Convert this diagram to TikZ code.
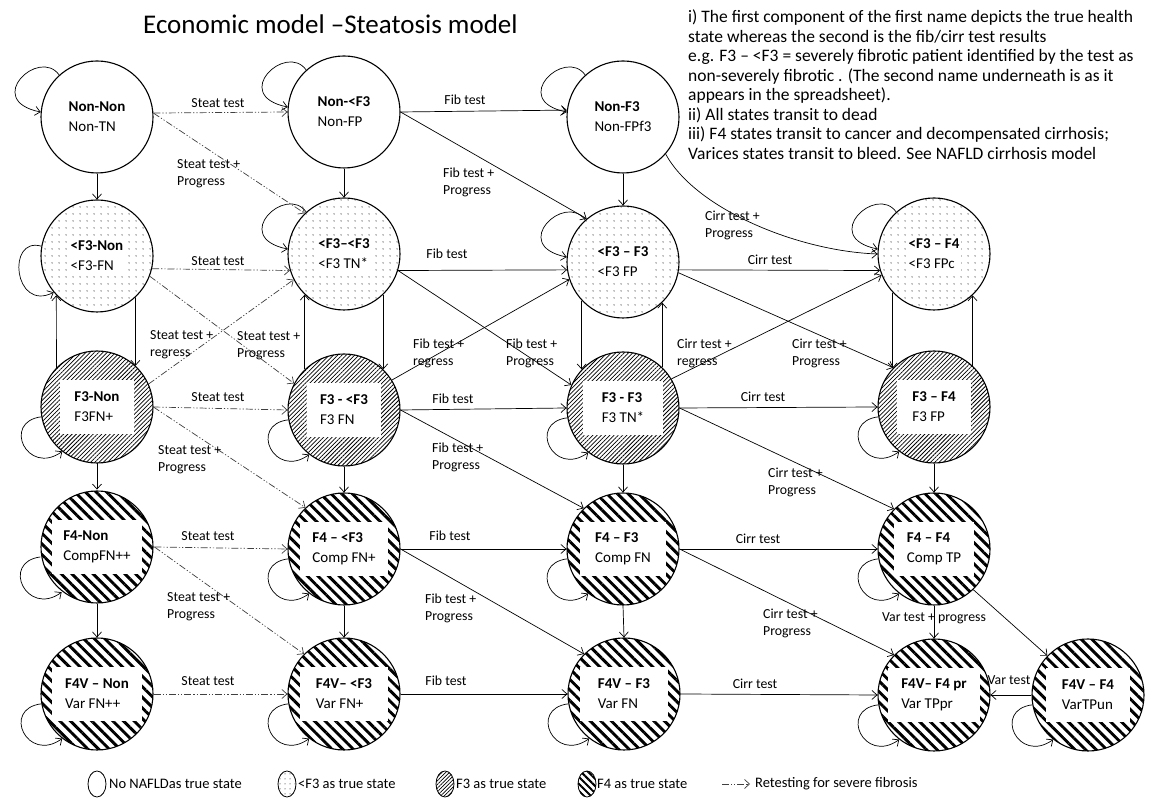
\documentclass[tikz,border=0pt]{standalone}
\usepackage{fontspec}
\setmainfont{Carlito}
\usetikzlibrary{arrows.meta,patterns.meta,shapes.geometric}
\tikzset{
  st/.style={circle, draw=black, line width=1.1pt, minimum size=112pt, inner sep=0pt},
  nonst/.style={st, fill=white},
  ltst/.style={st, pattern={Dots[distance=6.5pt, radius=0.6pt]}},
  fthree/.style={st, pattern={Lines[angle=45, distance=3pt, line width=0.75pt]}},
  ffour/.style={st, pattern={Lines[angle=-45, distance=7.5pt, line width=2.9pt]}},
  lbl/.style={font=\fontsize{15}{20}\selectfont, align=left, inner sep=0pt},
  dbox/.style={lbl, fill=white, inner sep=2pt},
  hbox/.style={lbl, fill=white, minimum width=76pt, minimum height=54pt},
  elab/.style={font=\fontsize{13.8}{17}\selectfont, align=left, inner sep=0pt},
  gl/.style={font=\fontsize{14.5}{16}\selectfont, inner sep=0pt, anchor=west},
  arr/.style={-{Straight Barb[length=5pt,width=9pt]}, line width=0.7pt},
  ret/.style={arr, draw=black!75, dash pattern=on 7pt off 2pt on 1.2pt off 2pt on 1.2pt off 2pt},
}
\begin{document}
\begin{tikzpicture}[x=1pt,y=1pt]
\fill[white] (0,0) rectangle (1167,799);
\useasboundingbox (0,0) rectangle (1167,799);

% title and notes
\node[font=\fontsize{27}{30}\selectfont, anchor=west, inner sep=0pt] (title) at (143,{799-24}) {Economic model –Steatosis model};
\node[font=\fontsize{17.5}{19.5}\selectfont, align=left, anchor=north west, inner sep=0pt] (notes) at (688,{799-10}) {i) The first component of the first name depicts the true health\\state whereas the second is the fib/cirr test results\\e.g. F3 – <F3 = severely fibrotic patient identified by the test as\\non-severely fibrotic . (The second name underneath is as it\\appears in the spreadsheet).\\ii) All states transit to dead\\iii) F4 states transit to cancer and decompensated cirrhosis;\\Varices states transit to bleed. See NAFLD cirrhosis model};

% states
\node[nonst] (nn) at (97,{799-117}) {};
\node[nonst] (nl) at (344,{799-112}) {};
\node[nonst] (nf) at (623,{799-117}) {};
\node[ltst] (a1) at (97,{799-256}) {};
\node[ltst] (a2) at (344,{799-254}) {};
\node[ltst] (a3) at (623,{799-262}) {};
\node[ltst] (a4) at (934,{799-254}) {};
\node[fthree] (b1) at (97,{799-407}) {};
\node[fthree] (b2) at (344,{799-410}) {};
\node[fthree] (b3) at (623,{799-408}) {};
\node[fthree] (b4) at (934,{799-407}) {};
\node[ffour] (c1) at (97,{799-547}) {};
\node[ffour] (c2) at (344,{799-549}) {};
\node[ffour] (c3) at (623,{799-549}) {};
\node[ffour] (c4) at (934,{799-549}) {};
\node[ffour] (d1) at (97,{799-694}) {};
\node[ffour] (d2) at (344,{799-694}) {};
\node[ffour] (d3) at (624,{799-694}) {};
\node[ffour] (d4) at (934,{799-695}) {};
\node[ffour] (d5) at (1088,{799-695}) {};

% state texts
\node[lbl] (nnt) at (nn) {\textbf{Non-Non}\\Non-TN};
\node[lbl] (nlt) at (nl) {\textbf{Non-<F3}\\Non-FP};
\node[lbl] (nft) at (nf) {\textbf{Non-F3}\\Non-FPf3};
\node[dbox] (a1t) at (a1) {\textbf{<F3-Non}\\<F3-FN};
\node[dbox] (a2t) at (a2) {\textbf{<F3–<F3}\\<F3 TN*};
\node[dbox] (a3t) at (a3) {\textbf{<F3 – F3}\\<F3 FP};
\node[dbox] (a4t) at (a4) {\textbf{<F3 – F4}\\<F3 FPc};
\node[hbox, minimum width=74pt] (b1t) at (b1) {\textbf{F3-Non}\\F3FN+};
\node[hbox, minimum width=74pt] (b2t) at (b2) {\textbf{F3 - <F3}\\F3 FN};
\node[hbox, minimum width=80pt] (b3t) at (b3) {\textbf{F3 - F3}\\F3 TN*};
\node[hbox, minimum width=74pt] (b4t) at (b4) {\textbf{F3 – F4}\\F3 FP};
\node[hbox, minimum width=90pt] (c1t) at (c1) {\textbf{F4-Non}\\CompFN++};
\node[hbox, minimum width=88pt] (c2t) at (c2) {\textbf{F4 – <F3}\\Comp FN+};
\node[hbox, minimum width=86pt] (c3t) at (c3) {\textbf{F4 – F3}\\Comp FN};
\node[hbox, minimum width=80pt] (c4t) at (c4) {\textbf{F4 – F4}\\Comp TP};
\node[hbox, minimum width=90pt] (d1t) at (d1) {\textbf{F4V – Non}\\Var FN++};
\node[hbox, minimum width=88pt] (d2t) at (d2) {\textbf{F4V– <F3}\\Var FN+};
\node[hbox, minimum width=88pt] (d3t) at (d3) {\textbf{F4V – F3}\\Var FN};
\node[hbox, minimum width=92pt] (d4t) at (d4) {\textbf{F4V– F4 pr}\\Var TPpr};
\node[hbox, minimum width=84pt] (d5t) at (d5) {\textbf{F4V – F4}\\VarTPun};

% self loops
\foreach \n in {nn,nl,nf,a2,a3,a4}
  \draw[arr] (\n.132) .. controls +(-20,28) and +(-58,12) .. (\n.175);
\draw[arr] (a1.170) .. controls +(-35,10) and +(-40,-20) .. (a1.220);
\foreach \n in {b1,b2,b3,b4,c1,c2,c3,c4,d1,d2,d3,d4,d5}
  \draw[arr] (\n.190) .. controls +(-40,-5) and +(-35,-25) .. (\n.232);

% row 1
\draw[ret] (nn.4) -- (nl.180);
\draw[ret] (nn.4) -- (a2.134);
\draw[arr] (nn.south) -- (a1.north);
\draw[arr] (nl.0) -- (nf.173);
\draw[arr] (nl.0) -- (a3.130);
\draw[arr] (nl.south) -- (a2.north);
\draw[arr] (nf.south) -- (a3.north);
\draw[arr] (nf.-41) .. controls +(30,-55) and +(-80,3) .. (a4.180);

% row 2
\draw[ret] (a1.-13) -- (a2.197);
\draw[ret] (a1.-21) -- (b2.152);
\draw[ret] (b1.24) -- (a2.207);
\draw[arr] (a1.-47) -- (b1.47);
\draw[arr] (b1.136) -- (a1.224);
\draw[arr] (a2.-17) -- (a3.188);
\draw[arr] (a2.-17) -- (b3.156);
\draw[arr] (b2.32) -- (a3.198);
\draw[arr] (a2.-46) -- (b2.46);
\draw[arr] (b2.134) -- (a2.226);
\draw[arr] (a3.-8) -- (a4.197);
\draw[arr] (a3.-11) -- (b4.136);
\draw[arr] (b3.31) -- (a4.202);
\draw[arr] (a3.223) -- (b3.137);
\draw[arr] (b3.46) -- (a3.-46);
\draw[arr] (a4.223) -- (b4.137);
\draw[arr] (b4.47) -- (a4.-47);

% row 3
\draw[ret] (b1.0) -- (b2.180);
\draw[ret] (b1.0) -- (c2.133);
\draw[arr] (b1.south) -- (c1.north);
\draw[arr] (b2.0) -- (b3.180);
\draw[arr] (b2.0) -- (c3.134);
\draw[arr] (b2.south) -- (c2.north);
\draw[arr] (b3.0) -- (b4.180);
\draw[arr] (b3.0) -- (c4.135);
\draw[arr] (b3.south) -- (c3.north);
\draw[arr] (b4.south) -- (c4.north);

% row 4
\draw[ret] (c1.0) -- (c2.180);
\draw[ret] (c1.0) -- (d2.135);
\draw[arr] (c1.south) -- (d1.north);
\draw[arr] (c2.0) -- (c3.180);
\draw[arr] (c2.0) -- (d3.135);
\draw[arr] (c2.south) -- (d2.north);
\draw[arr] (c3.0) -- (c4.180);
\draw[arr] (c3.0) -- (d4.135);
\draw[arr] (c3.south) -- (d3.north);
\draw[arr] (c4.south) -- (d4.north);
\draw[arr] (c4.-46) -- (d5.136);

% row 5
\draw[ret] (d1.0) -- (d2.180);
\draw[arr] (d2.0) -- (d3.180);
\draw[arr] (d3.0) -- (d4.180);
\draw[arr] (d5.180) -- (d4.0);

% edge labels
\node[elab] (l1) at (218,{799-103}) {Steat test};
\node[elab, anchor=west] (l2) at (177,{799-174}) {Steat test +\\Progress};
\node[elab] (l3) at (465,{799-100}) {Fib test};
\node[elab, anchor=west] (l4) at (443,{799-182}) {Fib test +\\Progress};
\node[elab, anchor=west] (l5) at (705,{799-225}) {Cirr test +\\Progress};
\node[elab] (l6) at (218,{799-261}) {Steat test};
\node[elab] (l7) at (447,{799-254}) {Fib test};
\node[elab] (l8) at (770,{799-260}) {Cirr test};
\node[elab, anchor=west] (l9) at (150,{799-345}) {Steat test +\\regress};
\node[elab, anchor=west] (l10) at (237,{799-346}) {Steat test +\\Progress};
\node[elab, anchor=west] (l11) at (413,{799-353}) {Fib test +\\regress};
\node[elab, anchor=west] (l12) at (506,{799-353}) {Fib test +\\Progress};
\node[elab, anchor=west] (l13) at (677,{799-353}) {Cirr test +\\regress};
\node[elab, anchor=west] (l14) at (792,{799-353}) {Cirr test +\\Progress};
\node[elab] (l15) at (218,{799-397}) {Steat test};
\node[elab] (l16) at (453,{799-399}) {Fib test};
\node[elab] (l17) at (763,{799-397}) {Cirr test};
\node[elab, anchor=west] (l18) at (158,{799-460}) {Steat test +\\Progress};
\node[elab, anchor=west] (l19) at (432,{799-457}) {Fib test +\\Progress};
\node[elab, anchor=west] (l20) at (768,{799-482}) {Cirr test +\\Progress};
\node[elab] (l21) at (208,{799-536}) {Steat test};
\node[elab] (l22) at (450,{799-536}) {Fib test};
\node[elab] (l23) at (758,{799-539}) {Cirr test};
\node[elab, anchor=west] (l24) at (167,{799-607}) {Steat test +\\Progress};
\node[elab, anchor=west] (l25) at (425,{799-608}) {Fib test +\\Progress};
\node[elab, anchor=west] (l26) at (763,{799-623}) {Cirr test +\\Progress};
\node[elab] (l27) at (934,{799-618}) {Var test + progress};
\node[elab] (l28) at (208,{799-681}) {Steat test};
\node[elab] (l29) at (446,{799-681}) {Fib test};
\node[elab] (l30) at (755,{799-684}) {Cirr test};
\node[elab] (l31) at (1009,{799-680}) {Var test};

% legend
\node[ellipse, draw, line width=0.8pt, fill=white, minimum width=18pt, minimum height=26pt, inner sep=0pt] (g1) at (97,15) {};
\node[gl] (g1t) at (109,15) {No NAFLDas true state};
\node[ellipse, draw, line width=0.8pt, minimum width=18pt, minimum height=26pt, inner sep=0pt, pattern={Dots[distance=5pt, radius=0.5pt]}] (g2) at (287,15) {};
\node[gl] (g2t) at (298,15) {<F3 as true state};
\node[ellipse, draw, line width=0.8pt, minimum width=18pt, minimum height=26pt, inner sep=0pt, pattern={Lines[angle=45, distance=2.6pt, line width=0.7pt]}] (g3) at (445,15) {};
\node[gl] (g3t) at (456,15) {F3 as true state};
\node[ellipse, draw, line width=0.8pt, minimum width=18pt, minimum height=26pt, inner sep=0pt, pattern={Lines[angle=-45, distance=5pt, line width=2pt]}] (g4) at (587,15) {};
\node[gl] (g4t) at (597,15) {F4 as true state};
\coordinate (ga) at (722,15);
\coordinate (gb) at (750,15);
\draw[ret] (ga) -- (gb);
\node[gl] (g5t) at (755,15) {Retesting for severe fibrosis};
\end{tikzpicture}
\end{document}
